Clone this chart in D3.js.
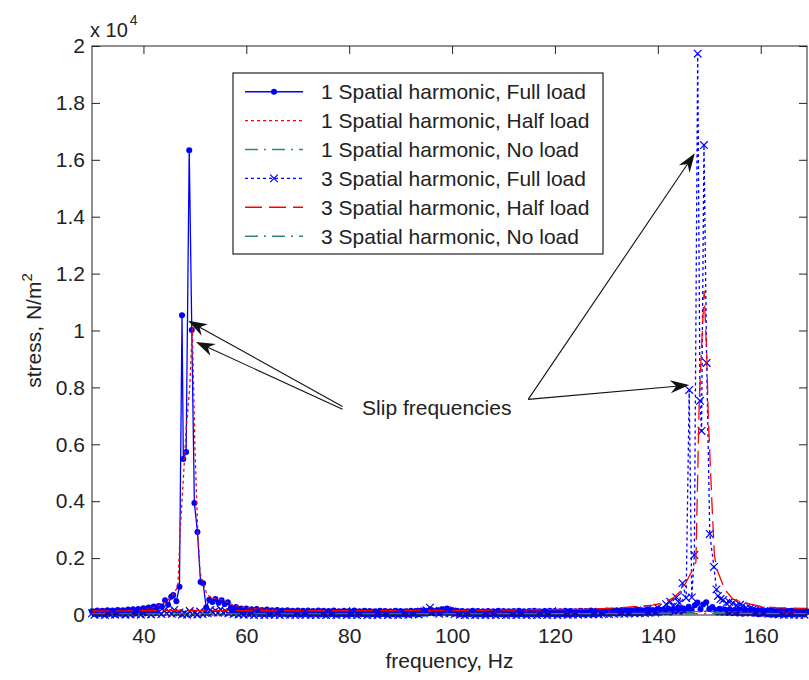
<!DOCTYPE html>
<html>
<head>
<meta charset="utf-8">
<script src="https://cdn.jsdelivr.net/npm/d3@7"></script>
<style>
  body { margin: 0; background: #fff; }
  svg text { font-family: "Liberation Sans", Arial, sans-serif; fill: #222; }
</style>
</head>
<body>
<svg id="chart" width="809" height="680"></svg>
<script>
// ----- DATA -----------------------------------------------------------
const freqDomain   = [30, 169];
const stressDomain = [0, 20000];
const freqTicks    = [40, 60, 80, 100, 120, 140, 160];
const stressTicks  = [0, 2000, 4000, 6000, 8000, 10000, 12000, 14000, 16000, 18000, 20000];

const seriesNames = [
    "1 Spatial harmonic, Full load",
    "1 Spatial harmonic, Half load",
    "1 Spatial harmonic, No load",
    "3 Spatial harmonic, Full load",
    "3 Spatial harmonic, Half load",
    "3 Spatial harmonic, No load"
];

// [frequency Hz, stress N/m^2]
const h1Full = [
    [30,130],[30.5,40],[31,160],[31.5,60],[32,150],[32.5,30],[33,170],[33.5,70],[34,160],[34.5,40],
    [35,180],[35.5,80],[36,170],[36.5,50],[37,190],[37.5,90],[38,200],[38.5,60],[39,210],[39.5,100],
    [40,240],[40.5,90],[41,260],[41.5,120],[42,300],[42.5,140],[43,320],[43.6,300],[44.2,520],[44.8,360],
    [45.4,640],[45.8,700],[46.4,480],[47.0,990],[47.5,10540],[47.75,5480],[48.3,5730],[48.9,16340],
    [49.4,10020],[49.9,3940],[50.5,2920],[51.1,1160],[51.6,1120],[52.2,260],[52.8,540],[53.4,460],
    [54.0,560],[54.6,430],[55.2,520],[55.8,390],[56.4,450],[57,260],[57.5,120],[58,280],[58.5,90],[59,230],
    [59.5,80],[60,230],[60.5,60],[61,200],[61.5,70],[62,210],[62.5,40],[63,180],[63.5,60],[64,190],
    [64.5,30],[65,170],[65.5,60],[66,180],[66.5,40],[67,160],[67.5,50],[68,170],[68.5,30],[69,150],
    [69.5,50],[70,160],[70.5,20],[71,150],[71.5,40],[72,160],[72.5,20],[73,140],[73.5,50],[74,160],
    [74.5,30],[75,150],[75.5,20],[76,140],[76.5,40],[77,160],[77.5,20],[78,130],[78.5,40],[79,150],
    [79.5,20],[80,140],[80.5,30],[81,160],[81.5,20],[82,130],[82.5,40],[83,150],[83.5,20],[84,140],
    [84.5,30],[85,130],[85.5,20],[86,150],[86.5,40],[87,140],[87.5,20],[88,130],[88.5,30],[89,150],
    [89.5,20],[90,140],[90.5,30],[91,130],[91.5,20],[92,150],[92.5,40],[93,140],[93.5,30],[94,160],
    [94.5,40],[95,150],[95.5,60],[96,180],[96.5,50],[97,160],[97.5,70],[98,200],[98.5,90],[99,230],
    [99.5,80],[100,180],[100.5,50],[101,150],[101.5,30],[102,140],[102.5,20],[103,130],[103.5,40],
    [104,150],[104.5,20],[105,140],[105.5,30],[106,130],[106.5,20],[107,140],[107.5,30],[108,130],
    [108.5,20],[109,150],[109.5,30],[110,140],[110.5,20],[111,130],[111.5,30],[112,140],[112.5,20],
    [113,150],[113.5,30],[114,130],[114.5,20],[115,140],[115.5,30],[116,150],[116.5,20],[117,130],
    [117.5,30],[118,140],[118.5,20],[119,150],[119.5,30],[120,140],[120.5,20],[121,130],[121.5,30],
    [122,150],[122.5,20],[123,140],[123.5,30],[124,130],[124.5,40],[125,150],[125.5,30],[126,140],
    [126.5,40],[127,160],[127.5,30],[128,150],[128.5,40],[129,140],[129.5,50],[130,160],[130.5,40],
    [131,150],[131.5,60],[132,170],[132.5,50],[133,150],[133.5,60],[134,180],[134.5,50],[135,160],
    [135.5,70],[136,190],[136.5,60],[137,170],[137.5,80],[138,200],[138.5,70],[139,180],[139.5,90],
    [140,210],[140.5,80],[141,190],[141.5,100],[142,230],[142.5,90],[143,210],[143.5,120],[144,260],
    [144.5,110],[145,230],[145.5,140],[146,290],[146.6,180],[147.2,340],[147.7,440],[148.3,200],
    [148.8,370],[149.4,450],[150,210],[150.6,280],[151.2,180],[151.6,90],[152,220],[152.5,80],[153,190],
    [153.5,70],[154,200],[154.5,60],[155,180],[155.5,50],[156,190],[156.5,40],[157,170],[157.5,50],
    [158,180],[158.5,40],[159,160],[159.5,30],[160,170],[160.5,40],[161,150],[161.5,30],[162,160],
    [162.5,20],[163,140],[163.5,30],[164,150],[164.5,20],[165,140],[165.5,30],[166,150],[166.5,20],
    [167,130],[167.5,30],[168,140],[168.5,20],[169,130]
];

const h1Half = [
    [30,90],[32,100],[34,110],[36,130],[38,150],[39.3,180],[40,200],[41,230],[42,270],[43,330],[44,420],
    [45,560],[46,780],[46.7,1000],[47.1,2800],[47.7,4600],[48.3,6500],[49.0,8000],[49.5,10100],[50.0,6000],
    [50.5,3200],[51.0,1500],[51.7,1050],[52.4,700],[53.5,600],[55.5,520],[57.4,350],[59.4,280],[62,220],
    [65,190],[70,160],[75,140],[80,130],[90,120],[100,120],[110,110],[120,110],[130,110],[140,120],
    [150,120],[160,110],[169,100]
];

const h1None = [
    [30,50],[40,55],[45,70],[48,120],[49.5,200],[51,110],[55,70],[60,55],[80,50],[100,50],[120,50],
    [140,50],[160,50],[169,50]
];

const h3Full = [
    [30,60],[30.5,10],[31,80],[31.5,20],[32,50],[32.5,0],[33,90],[33.5,20],[34,70],[34.5,10],[35,60],
    [35.5,30],[36,90],[36.5,10],[37,70],[37.5,20],[38,100],[38.5,30],[39,80],[39.5,10],[40,110],[40.5,40],
    [41,90],[41.5,20],[42,130],[42.5,50],[43,100],[43.5,30],[44,150],[44.5,60],[45,120],[45.5,40],[46,180],
    [46.5,60],[47,90],[47.5,20],[48,60],[48.5,10],[49,140],[49.5,30],[50,70],[50.5,20],[51,120],[51.5,30],
    [52,80],[52.5,60],[53,180],[53.5,90],[54,150],[54.5,80],[55,200],[55.5,90],[56,130],[56.5,60],[57,110],
    [57.5,30],[58,80],[58.5,20],[59,70],[59.5,10],[60,90],[60.5,20],[61,60],[61.5,0],[62,80],[62.5,10],
    [63,70],[63.5,0],[64,60],[64.5,20],[65,80],[65.5,10],[66,70],[66.5,0],[67,60],[67.5,20],[68,80],
    [68.5,10],[69,60],[69.5,0],[70,70],[70.5,20],[71,60],[71.5,0],[72,80],[72.5,10],[73,60],[73.5,0],
    [74,70],[74.5,20],[75,50],[75.5,0],[76,70],[76.5,10],[77,60],[77.5,0],[78,80],[78.5,20],[79,60],
    [79.5,0],[80,70],[80.5,10],[81,60],[81.5,0],[82,80],[82.5,20],[83,60],[83.5,0],[84,70],[84.5,10],
    [85,60],[85.5,0],[86,80],[86.5,20],[87,60],[87.5,0],[88,70],[88.5,10],[89,60],[89.5,0],[90,80],
    [90.5,20],[91,70],[91.5,10],[92,90],[92.5,30],[93,80],[93.5,20],[94,120],[94.5,60],[95,170],
    [95.7,260],[96.4,150],[97,110],[97.5,40],[98,130],[98.5,60],[99,170],[99.5,70],[100,120],[100.5,30],
    [101,90],[101.5,10],[102,70],[102.5,0],[103,60],[103.5,10],[104,80],[104.5,0],[105,60],[105.5,10],
    [106,70],[106.5,0],[107,60],[107.5,10],[108,80],[108.5,0],[109,60],[109.5,20],[110,70],[110.5,0],
    [111,60],[111.5,10],[112,80],[112.5,0],[113,60],[113.5,20],[114,70],[114.5,0],[115,60],[115.5,10],
    [116,80],[116.5,0],[117,70],[117.5,20],[118,60],[118.5,0],[119,80],[119.5,10],[120,70],[120.5,0],
    [121,60],[121.5,20],[122,80],[122.5,10],[123,70],[123.5,20],[124,90],[124.5,10],[125,70],[125.5,30],
    [126,90],[126.5,20],[127,80],[127.5,30],[128,100],[128.5,20],[129,80],[129.5,40],[130,110],[130.5,30],
    [131,90],[131.5,40],[132,120],[132.5,50],[133,100],[133.5,40],[134,140],[134.5,60],[135,110],
    [135.5,50],[136,160],[136.5,70],[137,130],[137.5,60],[138,200],[138.5,90],[139,160],[139.5,80],
    [140,260],[140.8,200],[141.6,380],[142.4,470],[143.0,300],[143.6,620],[144.2,420],[144.8,1120],
    [145.5,600],[146.1,7910],[146.6,620],[147.1,2110],[147.75,19730],[148.2,7530],[148.5,6470],
    [148.97,16520],[149.5,8860],[150.1,2850],[150.9,1690],[151.4,900],[151.7,670],[152.2,560],[152.7,530],
    [153.3,420],[153.9,460],[154.6,420],[155.3,340],[156,360],[156.5,320],[157.2,260],[158,240],
    [158.5,210],[159,180],[159.5,90],[160,160],[160.5,60],[161,130],[161.5,40],[162,140],[162.5,30],
    [163,110],[163.5,20],[164,120],[164.5,10],[165,100],[165.5,20],[166,110],[166.5,10],[167,90],
    [167.5,0],[168,100],[168.5,10],[169,90]
];

const h3Half = [
    [30,140],[40,150],[50,160],[60,150],[70,150],[80,150],[90,160],[100,160],[110,170],[115,180],
    [120,190],[125,200],[130,230],[133,260],[136,300],[139,350],[141,420],[143,600],[144.5,850],
    [145.5,1150],[146.5,1500],[147.4,1860],[148.05,7530],[148.5,9350],[149.0,11400],[149.5,9200],
    [149.8,7000],[150.5,4000],[151.0,2100],[151.5,1600],[152.1,1320],[153,900],[154.6,560],[156,480],
    [158,380],[160,300],[163,260],[166,240],[169,230]
];

const h3None = [
    [30,40],[60,40],[100,40],[130,45],[145,70],[148,130],[149.5,160],[151,100],[155,60],[169,45]
];

// annotation: label position and arrow [tail, tip] in data units
const slipLabel  = { text: "Slip frequencies", freq: 82.5, stress: 7030 };
const slipArrows = [
    [[78.7, 7330], [48.7, 10340]],
    [[78.7, 7230], [50.2, 9600]],
    [[114.8, 7580], [147.2, 16230]],
    [[114.8, 7580], [146.1, 8080]]
];

// ----- DRAW -----------------------------------------------------------
const plot = { left: 92, right: 807, top: 46, bottom: 615 };

const svg = d3.select("#chart");

const x = d3.scaleLinear().domain(freqDomain).range([plot.left, plot.right]);
const y = d3.scaleLinear().domain(stressDomain).range([plot.bottom, plot.top]);

const series = [
    { name: seriesNames[0], data: h1Full, color: "#0000ff", dash: null,          marker: "dot" },
    { name: seriesNames[1], data: h1Half, color: "#ff0000", dash: "3,3",         marker: null  },
    { name: seriesNames[2], data: h1None, color: "#2f8a5f", dash: "13,6,2,6",    marker: null  },
    { name: seriesNames[3], data: h3Full, color: "#0000ff", dash: "3,3",         marker: "x"   },
    { name: seriesNames[4], data: h3Half, color: "#ff0000", dash: "17,7",        marker: null  },
    { name: seriesNames[5], data: h3None, color: "#2f8a5f", dash: "13,6,2,6",    marker: null  }
];

const line = d3.line()
    .x(d => x(d[0]))
    .y(d => y(d[1]));

function drawMarker( g, type, color )
{
    if( type === "dot" )
    {
        g.append("circle").attr("r", 3).attr("fill", color);
    }
    else if( type === "x" )
    {
        g.append("path")
            .attr("d", "M-3.8,-3.8L3.8,3.8M-3.8,3.8L3.8,-3.8")
            .attr("stroke", color)
            .attr("stroke-width", 1.2)
            .attr("fill", "none");
    }
}

// axes: ticks pointing inwards on all four sides
const fmtStress = d => d3.format("~g")(d / 1e4);

svg.append("g")
    .attr("transform", "translate(0," + plot.bottom + ")")
    .call(d3.axisBottom(x).tickValues(freqTicks).tickSizeInner(-8).tickSizeOuter(0).tickPadding(13))
    .call(g => g.select(".domain").remove());

svg.append("g")
    .attr("transform", "translate(0," + plot.top + ")")
    .call(d3.axisTop(x).tickValues(freqTicks).tickSizeInner(-8).tickSizeOuter(0).tickFormat(""))
    .call(g => g.select(".domain").remove());

svg.append("g")
    .attr("transform", "translate(" + plot.left + ",0)")
    .call(d3.axisLeft(y).tickValues(stressTicks).tickSizeInner(-8).tickSizeOuter(0).tickPadding(7).tickFormat(fmtStress))
    .call(g => g.select(".domain").remove());

svg.append("g")
    .attr("transform", "translate(" + plot.right + ",0)")
    .call(d3.axisRight(y).tickValues(stressTicks).tickSizeInner(-8).tickSizeOuter(0).tickFormat(""))
    .call(g => g.select(".domain").remove());

svg.selectAll(".tick line").attr("stroke", "#222");
svg.selectAll(".tick text")
    .attr("font-size", 21)
    .attr("font-family", "Liberation Sans, Arial, sans-serif")
    .attr("fill", "#222");

// series lines
const seriesG = svg.append("g");
series.forEach(s => {
    seriesG.append("path")
        .datum(s.data)
        .attr("d", line)
        .attr("fill", "none")
        .attr("stroke", s.color)
        .attr("stroke-width", 1.3)
        .attr("stroke-dasharray", s.dash);

    if( s.marker )
    {
        seriesG.append("g").selectAll("g")
            .data(s.data)
            .enter()
                .append("g")
                .attr("transform", d => "translate(" + x(d[0]) + "," + y(d[1]) + ")")
                .each(function() { drawMarker(d3.select(this), s.marker, s.color); });
    }
});

// box round the plot
svg.append("rect")
    .attr("x", plot.left)
    .attr("y", plot.top)
    .attr("width", plot.right - plot.left)
    .attr("height", plot.bottom - plot.top)
    .attr("fill", "none")
    .attr("stroke", "#222")
    .attr("stroke-width", 1);

// axis labels
svg.append("text")
    .attr("x", (plot.left + plot.right) / 2)
    .attr("y", 668)
    .attr("text-anchor", "middle")
    .attr("font-size", 21)
    .text("frequency, Hz");

const yLabel = svg.append("text")
    .attr("transform", "translate(41," + ((plot.top + plot.bottom) / 2) + ") rotate(-90)")
    .attr("text-anchor", "middle")
    .attr("font-size", 21);
yLabel.append("tspan").text("stress, N/m");
yLabel.append("tspan").attr("dy", -9).attr("font-size", 15).text("2");

const expLabel = svg.append("text")
    .attr("x", plot.left - 2)
    .attr("y", 37)
    .attr("font-size", 20);
expLabel.append("tspan").text("x 10");
expLabel.append("tspan").attr("dy", -12).attr("dx", 2).attr("font-size", 14).text("4");

// legend
const legend = { x: 233, y: 73, width: 370, height: 181, rowStart: 18.7, rowStep: 28.9 };
const legendG = svg.append("g").attr("transform", "translate(" + legend.x + "," + legend.y + ")");

legendG.append("rect")
    .attr("width", legend.width)
    .attr("height", legend.height)
    .attr("fill", "#fff")
    .attr("stroke", "#222")
    .attr("stroke-width", 1.2);

series.forEach((s, i) => {
    const ry = legend.rowStart + i * legend.rowStep;
    legendG.append("line")
        .attr("x1", 12).attr("x2", 70)
        .attr("y1", ry).attr("y2", ry)
        .attr("stroke", s.color)
        .attr("stroke-width", 1.4)
        .attr("stroke-dasharray", s.dash);
    if( s.marker )
    {
        drawMarker(legendG.append("g").attr("transform", "translate(41," + ry + ")"), s.marker, s.color);
    }
    legendG.append("text")
        .attr("x", 88)
        .attr("y", ry + 7.5)
        .attr("font-size", 21)
        .text(s.name);
});

// slip frequency annotation
svg.append("text")
    .attr("x", x(slipLabel.freq))
    .attr("y", y(slipLabel.stress))
    .attr("font-size", 21)
    .text(slipLabel.text);

const arrowG = svg.append("g");
slipArrows.forEach(a => {
    const x0 = x(a[0][0]), y0 = y(a[0][1]);
    const x1 = x(a[1][0]), y1 = y(a[1][1]);
    const ang = Math.atan2(y1 - y0, x1 - x0) * 180 / Math.PI;
    const len = Math.hypot(x1 - x0, y1 - y0);

    const g = arrowG.append("g")
        .attr("transform", "translate(" + x1 + "," + y1 + ") rotate(" + ang + ")");
    g.append("line")
        .attr("x1", -len).attr("y1", 0)
        .attr("x2", -10).attr("y2", 0)
        .attr("stroke", "#111")
        .attr("stroke-width", 1.1);
    g.append("path")
        .attr("d", "M0,0L-19,-6.5L-13,0L-19,6.5Z")
        .attr("fill", "#111");
});
</script>
</body>
</html>
